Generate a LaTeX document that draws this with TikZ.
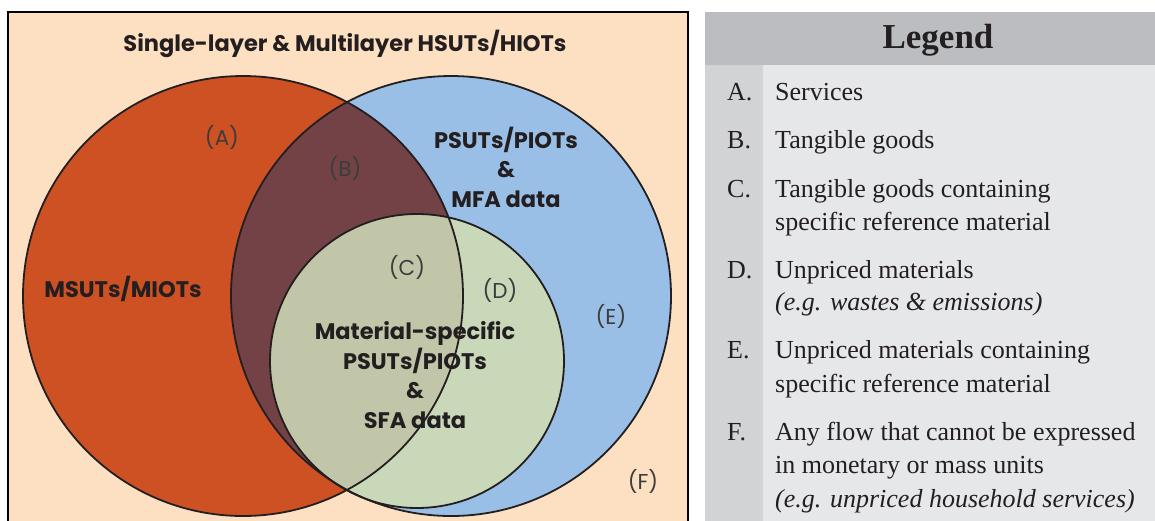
\documentclass[tikz,border=0pt]{standalone}
\usepackage{fontspec}
\setmainfont{Liberation Serif}
\newfontfamily\dsans{Poppins}
\definecolor{peach}{RGB}{253,224,193}
\definecolor{redc}{RGB}{205,81,35}
\definecolor{bluec}{RGB}{154,191,230}
\definecolor{overc}{RGB}{114,66,70}
\definecolor{greenb}{RGB}{200,216,184}
\definecolor{greenr}{RGB}{194,198,168}
\definecolor{ink}{RGB}{35,31,32}
\definecolor{labgray}{RGB}{60,60,60}
\definecolor{leghead}{RGB}{188,189,192}
\definecolor{legbody}{RGB}{230,231,232}
\definecolor{legcol}{RGB}{210,211,213}
\begin{document}
\begin{tikzpicture}[x=1pt,y=-1pt,
  lbl/.style={font=\dsans\fontsize{21.5}{21.5}\selectfont, text=labgray, inner sep=0},
  bigt/.style={font=\dsans\bfseries\fontsize{22.5}{29.5}\selectfont, text=ink, align=center, inner sep=0},
  leg/.style={font=\fontsize{26}{26}\selectfont, text=ink, anchor=base west, inner sep=0},
  legit/.style={leg, font=\itshape\fontsize{26}{26}\selectfont},
  outline/.style={draw=ink, line width=1.8pt}]
\useasboundingbox (0,0) rectangle (1155,520);
\clip (0,0) rectangle (1155,520);
% frame
\path[fill=peach, draw=black, line width=2.2pt] (8,12) rectangle (688,545);
% circles
\coordinate (rc) at (243,296);
\coordinate (bc) at (451,296);
\coordinate (gc) at (417,361);
\fill[redc] (rc) circle[radius=220];
\fill[bluec] (bc) circle[radius=220];
\begin{scope}
  \clip (bc) circle[radius=220];
  \fill[overc] (rc) circle[radius=220];
\end{scope}
\fill[greenb] (gc) circle[radius=147];
\begin{scope}
  \clip (gc) circle[radius=147];
  \fill[greenr] (rc) circle[radius=220];
\end{scope}
\draw[outline] (rc) circle[radius=220];
\draw[outline] (bc) circle[radius=220];
\draw[outline] (gc) circle[radius=147];
% texts
\node[bigt] (title) at (345,44) {Single-layer \& Multilayer HSUTs/HIOTs};
\node[bigt] (msut) at (123,289) {MSUTs/MIOTs};
\node[bigt] (psut) at (506,167) {PSUTs/PIOTs\\\&\\MFA data};
\node[bigt] (sfa) at (415,375) {Material-specific\\PSUTs/PIOTs\\\&\\SFA data};
\node[lbl] (la) at (222,137) {(A)};
\node[lbl] (lb) at (345,168) {(B)};
\node[lbl] (lc) at (407,267) {(C)};
\node[lbl] (ld) at (500,290) {(D)};
\node[lbl] (le) at (611,316) {(E)};
\node[lbl] (lf) at (643,481) {(F)};
% legend
\fill[legbody] (705,12) rectangle (1160,525);
\fill[legcol] (705,65) rectangle (763,525);
\fill[leghead] (705,12) rectangle (1160,65);
\node[font=\bfseries\fontsize{35}{35}\selectfont, text=ink, inner sep=0] (lg) at (938,40) {Legend};
\node[leg] (ka) at (727,100) {A.};
\node[leg] (ta) at (775,100) {Services};
\node[leg] (kb) at (727,148) {B.};
\node[leg] (tb) at (775,148) {Tangible goods};
\node[leg] (kc) at (727,197) {C.};
\node[leg] (tc1) at (775,197) {Tangible goods containing};
\node[leg] (tc2) at (775,230) {specific reference material};
\node[leg] (kd) at (727,278) {D.};
\node[leg] (td1) at (775,278) {Unpriced materials};
\node[legit] (td2) at (775,310) {(e.g. wastes \& emissions)};
\node[leg] (ke) at (727,358) {E.};
\node[leg] (te1) at (775,358) {Unpriced materials containing};
\node[leg] (te2) at (775,392) {specific reference material};
\node[leg] (kf) at (727,440) {F.};
\node[leg] (tf1) at (775,440) {Any flow that cannot be expressed};
\node[leg] (tf2) at (775,473) {in monetary or mass units};
\node[legit] (tf3) at (775,507) {(e.g. unpriced household services)};
\end{tikzpicture}
\end{document}
